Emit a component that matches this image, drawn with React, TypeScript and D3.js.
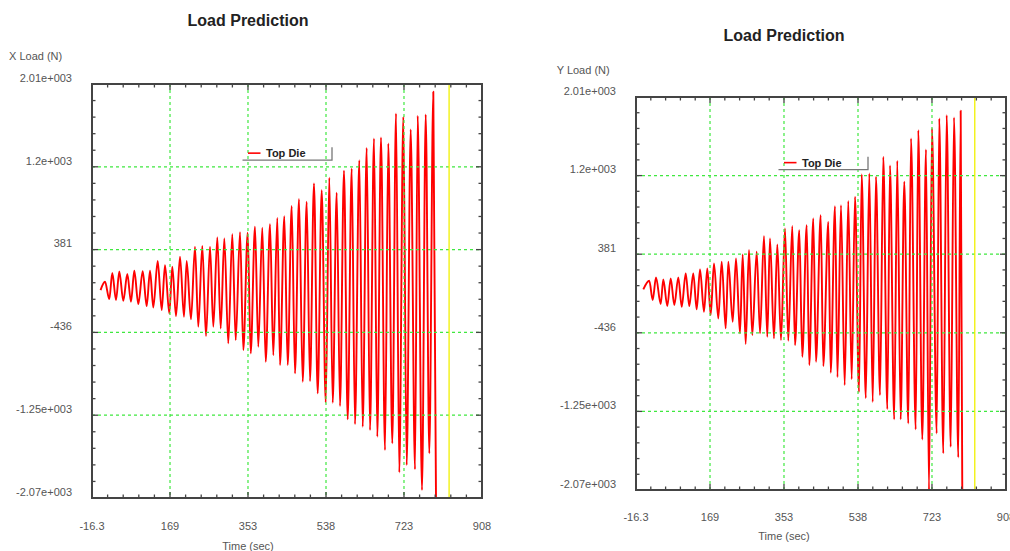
import React, { useRef, useEffect } from "react";
import * as d3 from "d3";

// axis ticks shared by both plots
const timeTicks = [-16.3, 168.6, 353.4, 538.3, 723.1, 908];
const timeTickLabels = ["-16.3", "169", "353", "538", "723", "908"];
const loadTicks = [2013, 1197, 381, -435, -1251, -2067];
const loadTickLabels = ["2.01e+003", "1.2e+003", "381", "-436", "-1.25e+003", "-2.07e+003"];
const markerTime = 830; // yellow cursor line

// X load (N) vs time (sec), peaks and troughs
const xLoadTime = [
  4, 14.5, 24.7, 31.8, 40.6, 48.4, 57.9, 67.4, 76.1, 84, 93.4, 103.9, 113.3, 121.2, 129,
  139.4, 148.9, 156.7, 166.9, 174, 182.8, 192.3, 201.7, 208.1, 218.3, 227.8, 235.6, 245.1,
  253.9, 263.4, 271.2, 280.7, 288.7, 297.3, 306.7, 316.2, 324.3, 334.5, 342.3, 352.7, 359.8,
  370, 377.8, 387.3, 395.4, 405.6, 413.4, 422.9, 429.3, 439.5, 447.5, 457, 464.8, 474.3,
  483.1, 492.5, 500.4, 509.8, 518.6, 528.1, 537.6, 546.1, 554.2, 563.6, 571.5, 580.9, 589.7,
  599.2, 607, 617.2, 625.3, 634.7, 642.6, 652, 659.9, 668.6, 678.1, 685.9, 695.4, 704.2, 712,
  721.5, 729.5, 739, 749.2, 755.6, 765.8, 774.6, 783.1, 792.6, 799,
];
const xLoadValue = [
  -18, 64, -107, 152, -117, 166, -124, 140, -133, 172, -156, 169, -176, 172, -189,
  268, -215, 228, -248, 212, -274, 310, -281, 268, -307, 409, -380, 418,
  -471, 409, -380, 501, -396, 491, -543, 534, -511, 553, -609, 547, -642,
  606, -577, 596, -725, 632, -659, 694, -757, 711, -757, 810, -839, 879,
  -922, 852, -915, 1033, -1036, 967, -1125, 1089, -1129, 941, -1161, 1158, -1292,
  1181, -1339, 1263, -1365, 1384, -1398, 1477, -1464, 1487, -1595, 1428, -1529, 1723, -1815,
  1690, -1743, 1566, -1785, 1700, -1989, 1713, -1627, 1936, -2067,
];

// Y load (N) vs time (sec)
const yLoadTime = [
  2, 16.9, 25.4, 33.7, 45.4, 51.9, 61.9, 70.4, 79.4, 89.4, 97.9, 107.9, 116.8, 126.8, 135.3,
  143.6, 153.6, 161.8, 170.3, 178.5, 189.3, 197.8, 207.8, 214.3, 225.3, 233.5, 243.5, 250.2,
  257.7, 266, 274.2, 285.2, 293.5, 303.4, 311.7, 318.4, 328.4, 336.7, 345.9, 355.9, 364.1,
  374.1, 380.9, 391.6, 399.1, 410.1, 416.6, 426.6, 433.3, 445.1, 451.6, 464.1, 470.1, 480.8,
  487, 495.8, 505, 514, 522.5, 530.8, 540.8, 547.5, 557.7, 566.5, 575, 583.2, 593.2, 601.5,
  611.5, 618.2, 628.7, 636.4, 644.9, 653.9, 663.9, 670.7, 682.4, 688.9, 698.9, 708.1, 715.6,
  723.1, 734.8, 741.3, 751.3, 759.8, 769.8, 778.1, 788.8, 794.8, 798.8,
];
const yLoadValue = [
  16, 105, -96, 140, -137, 119, -158, 130, -147, 140, -165, 182, -158, 182, -192,
  223, -217, 234, -251, 285, -286, 302, -389, 302, -321, 337, -441, 379,
  -552, 424, -459, 406, -441, 569, -477, 545, -493, 483, -511, 649, -518,
  673, -563, 631, -684, 683, -770, 753, -736, 787, -781, 717, -850, 880,
  -895, 891, -978, 935, -916, 977, -1051, 1209, -1113, 1220, -1154, 1185, -1082, 1392,
  -1227, 1303, -1334, 1351, -1334, 1133, -1376, 1583, -1438, 1669, -1542, 1469, -2067,
  1687, -1480, 1791, -1687, 1825, -1619, 1801, -1729, 1870, -2067,
];

const font = "'Liberation Sans', Arial, Helvetica, sans-serif";

function drawPanel(svg, p) {
  const x = d3
    .scaleLinear()
    .domain([timeTicks[0], timeTicks[timeTicks.length - 1]])
    .range([p.left, p.right]);
  const y = d3
    .scaleLinear()
    .domain([loadTicks[loadTicks.length - 1], loadTicks[0]])
    .range([p.bottom, p.top]);
  const w = p.right - p.left;
  const h = p.bottom - p.top;
  const g = svg.append("g");

  // load trace
  const pts = p.times.map((t, i) => [t, p.values[i]]);
  const line = d3
    .line()
    .x((d) => x(d[0]))
    .y((d) => y(d[1]))
    .curve(d3.curveMonotoneX);
  g.append("path")
    .datum(pts)
    .attr("fill", "none")
    .attr("stroke", "#ff0000")
    .attr("stroke-width", 1.9)
    .attr("stroke-linejoin", "round")
    .attr("d", line);

  // grid (drawn over the trace, like the original)
  const grid = g
    .append("g")
    .attr("stroke", "#3fe83f")
    .attr("stroke-width", 1.2)
    .attr("stroke-dasharray", "3,3");
  timeTicks.slice(1, -1).forEach((t) => {
    grid.append("line").attr("x1", x(t)).attr("x2", x(t)).attr("y1", p.top).attr("y2", p.bottom);
  });
  loadTicks.slice(1, -1).forEach((v) => {
    grid.append("line").attr("x1", p.left).attr("x2", p.right).attr("y1", y(v)).attr("y2", y(v));
  });

  // yellow cursor
  g.append("line")
    .attr("x1", x(markerTime))
    .attr("x2", x(markerTime))
    .attr("y1", p.top)
    .attr("y2", p.bottom)
    .attr("stroke", "#f0f000")
    .attr("stroke-width", 1.3);

  // frame
  g.append("rect")
    .attr("x", p.left)
    .attr("y", p.top)
    .attr("width", w)
    .attr("height", h)
    .attr("fill", "none")
    .attr("stroke", "#444")
    .attr("stroke-width", 2);

  // ticks on all four sides, pointing inward
  const minors = (ticks) =>
    ticks.slice(0, -1).flatMap((v, i) => d3.range(1, 5).map((k) => v + ((ticks[i + 1] - v) * k) / 5));
  const tk = g.append("g").attr("stroke", "#444").attr("stroke-width", 1.3);
  const xt = timeTicks.map((t) => [t, 6]).concat(minors(timeTicks).map((t) => [t, 3.5]));
  xt.forEach(([t, len]) => {
    tk.append("line").attr("x1", x(t)).attr("x2", x(t)).attr("y1", p.top).attr("y2", p.top + len);
    tk.append("line").attr("x1", x(t)).attr("x2", x(t)).attr("y1", p.bottom).attr("y2", p.bottom - len);
  });
  const yt = loadTicks.map((v) => [v, 6]).concat(minors(loadTicks).map((v) => [v, 3.5]));
  yt.forEach(([v, len]) => {
    tk.append("line").attr("x1", p.left).attr("x2", p.left + len).attr("y1", y(v)).attr("y2", y(v));
    tk.append("line").attr("x1", p.right).attr("x2", p.right - len).attr("y1", y(v)).attr("y2", y(v));
  });

  // tick labels
  const lab = g.append("g").attr("font-family", font).attr("font-size", 11).attr("fill", "#555");
  loadTicks.forEach((v, i) => {
    lab.append("text")
      .attr("x", p.left - 20)
      .attr("y", y(v) - 2.3)
      .attr("text-anchor", "end")
      .text(loadTickLabels[i]);
  });
  timeTicks.forEach((t, i) => {
    lab.append("text")
      .attr("x", x(t))
      .attr("y", p.bottom + p.tickDy)
      .attr("text-anchor", "middle")
      .text(timeTickLabels[i]);
  });

  // axis titles
  lab.append("text").attr("x", p.left - p.yTitleDx).attr("y", p.yTitleY).text(p.yTitle);
  lab.append("text")
    .attr("x", p.left + w * 0.4)
    .attr("y", p.xTitleY)
    .attr("text-anchor", "middle")
    .text("Time (sec)");

  // chart title
  g.append("text")
    .attr("x", p.left + w * 0.4)
    .attr("y", p.titleY)
    .attr("text-anchor", "middle")
    .attr("font-family", font)
    .attr("font-size", 16)
    .attr("font-weight", "bold")
    .attr("fill", "#222")
    .text("Load Prediction");

  // legend
  const lx = p.left + w * 0.4;
  const ly = p.top + h * 0.167;
  g.append("line")
    .attr("x1", lx)
    .attr("x2", lx + 12.5)
    .attr("y1", ly)
    .attr("y2", ly)
    .attr("stroke", "#ff0000")
    .attr("stroke-width", 1.6);
  g.append("text")
    .attr("x", lx + 18)
    .attr("y", ly + 4)
    .attr("font-family", font)
    .attr("font-size", 11)
    .attr("font-weight", "bold")
    .attr("fill", "#222")
    .text("Top Die");
  g.append("polyline")
    .attr("points", `${lx - 5.5},${ly + 7} ${lx + 84},${ly + 7} ${lx + 84},${ly - 6}`)
    .attr("fill", "none")
    .attr("stroke", "#777")
    .attr("stroke-width", 1.3);
}

export default function App() {
  const svgRef = useRef(null);

  useEffect(() => {
    const svg = d3.select(svgRef.current);
    svg.selectAll("*").remove();

    drawPanel(svg, {
      left: 92,
      right: 482,
      top: 84,
      bottom: 498,
      titleY: 25.8,
      yTitle: "X Load (N)",
      yTitleDx: 83,
      yTitleY: 59.7,
      tickDy: 31.7,
      xTitleY: 549.7,
      times: xLoadTime,
      values: xLoadValue,
    });
    drawPanel(svg, {
      left: 636,
      right: 1006,
      top: 97,
      bottom: 490,
      titleY: 40.8,
      yTitle: "Y Load (N)",
      yTitleDx: 79.3,
      yTitleY: 74,
      tickDy: 30.7,
      xTitleY: 539.7,
      times: yLoadTime,
      values: yLoadValue,
    });
  }, []);

  return (
    <svg
      ref={svgRef}
      width={1010}
      height={551}
      style={{ position: "fixed", left: 0, top: 0, background: "#fff" }}
    ></svg>
  );
}
